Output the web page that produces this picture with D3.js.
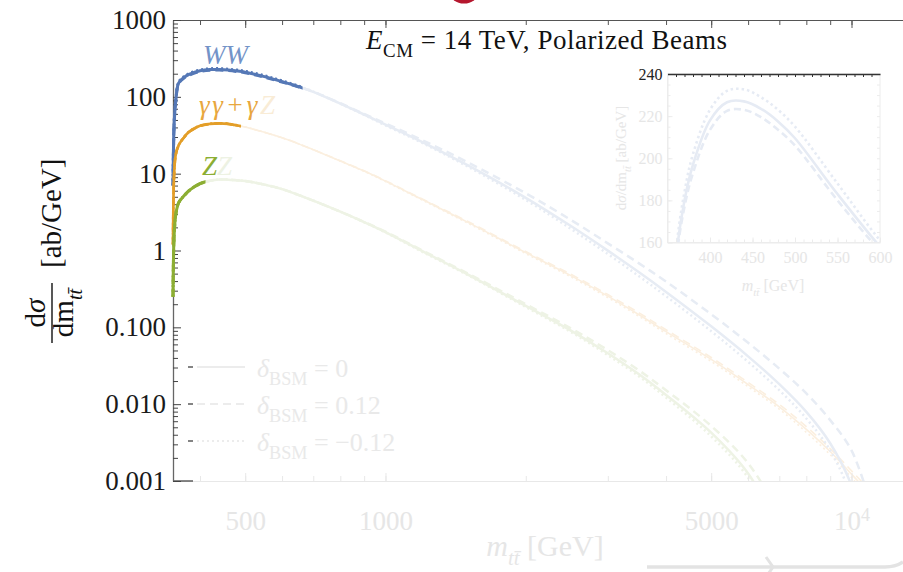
<!DOCTYPE html>
<html>
<head>
<meta charset="utf-8">
<script src="https://cdn.jsdelivr.net/npm/d3@7"></script>
<style>
  body { margin: 0; background: #fff; }
  svg { display: block; }
</style>
</head>
<body>
<div id="chart"></div>
<script>
// m_tt (GeV) sample points shared by every curve
const mass = [350, 352, 355, 360, 370, 380, 400, 420, 440, 460, 480, 500, 550, 600, 650, 700, 800, 900,
              1000, 1200, 1500, 2000, 2500, 3000, 3500, 4000, 5000, 6000, 7000, 8000, 9000, 10000, 11000];
// dsigma/dm (ab/GeV), delta_BSM = 0 / +0.12 / -0.12
const wwSM    = [7, 45, 92, 152, 180, 197, 218, 226.6, 227, 223.5, 217.5, 209.5, 183, 158, 136, 116, 81.5, 58.8,
                 43.6, 25.8, 12.9, 4.85, 2.08, 0.996, 0.52, 0.289, 0.103, 0.0419, 0.0182, 0.00794, 0.0031, 0.00087, 0.00008];
const wwPlus  = [7, 44, 90, 150, 177, 193, 213.5, 222.5, 223, 219.5, 213.5, 206, 180, 156, 135.5, 116.5, 82.5, 60,
                 45, 27.3, 14.1, 5.55, 2.5, 1.24, 0.68, 0.395, 0.148, 0.063, 0.029, 0.0138, 0.0062, 0.0025, 0.0005];
const wwMinus = [7, 46, 94, 155, 184, 202, 223, 232, 232.7, 229, 223, 215, 188, 161, 138.5, 117, 81.5, 58.3,
                 42.4, 25.1, 12.4, 4.55, 1.91, 0.9, 0.462, 0.254, 0.089, 0.0355, 0.0152, 0.0065, 0.0025, 0.0006, 0.00005];
const ggSM    = [1.2, 10, 18, 23.5, 30, 35.5, 42, 44.5, 45.2, 44.5, 42.5, 40.5, 34.5, 29.3, 24.6, 20.5, 14.6, 10.8,
                 8.0, 4.6, 2.34, 0.94, 0.471, 0.255, 0.146, 0.088, 0.0382, 0.018, 0.00925, 0.0047, 0.00242, 0.00123, 0.00065];
const ggPlus  = [1.2, 10, 18, 23.4, 29.8, 35.3, 41.8, 44.3, 45, 44.3, 42.3, 40.4, 34.4, 29.3, 24.6, 20.5, 14.7, 10.9,
                 8.1, 4.68, 2.4, 0.97, 0.49, 0.267, 0.154, 0.093, 0.0405, 0.0192, 0.0099, 0.0051, 0.00264, 0.00136, 0.00073];
const ggMinus = [1.2, 10, 18, 23.6, 30.2, 35.7, 42.2, 44.7, 45.4, 44.7, 42.7, 40.6, 34.6, 29.3, 24.6, 20.5, 14.5, 10.7,
                 7.9, 4.52, 2.28, 0.91, 0.453, 0.244, 0.139, 0.083, 0.036, 0.0169, 0.0086, 0.0043, 0.0022, 0.00111, 0.00058];
const zzSM    = [0.25, 1.6, 3.0, 4.2, 5.2, 6.1, 7.4, 8.1, 8.4, 8.35, 8.2, 8.05, 7.2, 6.3, 5.3, 4.45, 3.2, 2.34,
                 1.74, 0.98, 0.49, 0.19, 0.0906, 0.046, 0.0245, 0.0132, 0.00425, 0.00125, 0.00022, 0.00002, 0.000005, 0.000002, 0.000001];
const zzPlus  = [0.25, 1.6, 3.0, 4.2, 5.2, 6.1, 7.4, 8.1, 8.4, 8.35, 8.2, 8.05, 7.2, 6.3, 5.3, 4.45, 3.2, 2.36,
                 1.76, 1.0, 0.505, 0.2, 0.097, 0.0505, 0.0275, 0.0152, 0.0052, 0.0017, 0.00035, 0.00004, 0.000006, 0.000002, 0.000001];
const zzMinus = [0.25, 1.6, 3.0, 4.2, 5.2, 6.1, 7.4, 8.1, 8.4, 8.35, 8.2, 8.05, 7.2, 6.3, 5.3, 4.45, 3.2, 2.33,
                 1.72, 0.96, 0.48, 0.184, 0.087, 0.0435, 0.023, 0.0122, 0.0038, 0.0011, 0.00018, 0.00002, 0.000005, 0.000002, 0.000001];

const processNames = ["WW", "ZZ"];
const brightUpTo = [664, 489, 411];   // GeV where the highlighted part of each curve stops
const yTickValues = [0.001, 0.01, 0.1, 1, 10, 100, 1000];
const yTickLabels = ["0.001", "0.010", "0.100", "1", "10", "100", "1000"];
const xTickValues = [500, 1000, 5000, 10000];
const xTickLabels = ["500", "1000", "5000", "10"];
const insetXTicks = [400, 450, 500, 550, 600];
const insetYTicks = [160, 180, 200, 220, 240];
const deltaLabels = ["0", "0.12", "\u22120.12"];

const serif = "'Liberation Serif', 'DejaVu Serif', serif";
const fadedText = "#e6e6e6";
const dashes = [null, "8,5", "2,3"];

const width = 903, height = 572;
const svg = d3.select("#chart").append("svg")
    .attr("width", width).attr("height", height)
    .attr("font-family", serif);

const x = d3.scaleLog().domain([350, 14000]).range([173, 919.6]);
const y = d3.scaleLog().domain([0.001, 1000]).range([481, 20]);

// rich text helper: parts with italic / subscript / superscript
function rich(textSel, parts, size) {
    let shift = 0;
    parts.forEach(p => {
        const target = p.sub ? 0.3 * size : p.sup ? -0.42 * size : 0;
        const ts = textSel.append("tspan").text(p.t).attr("dy", target - shift);
        shift = target;
        if (p.sub || p.sup) ts.attr("font-size", size * 0.7);
        if (p.italic) ts.attr("font-style", "italic");
        if (p.fill) ts.attr("fill", p.fill);
    });
    return textSel;
}

const defs = svg.append("defs");
defs.append("clipPath").attr("id", "plotClip").append("rect")
    .attr("x", 168).attr("y", 18).attr("width", 740).attr("height", 463);

const series = [
    {sets: [wwSM, wwPlus, wwMinus], color: "#5578b6", faded: "#e7ecf4", w: 3, wf: 2.5},
    {sets: [ggSM, ggPlus, ggMinus], color: "#e39e28", faded: "#fbefdf", w: 2.6, wf: 1.6},
    {sets: [zzSM, zzPlus, zzMinus], color: "#8cae33", faded: "#eef3e5", w: 3, wf: 2.5}
];
series.forEach((s, i) => {
    defs.append("clipPath").attr("id", "bright" + i).append("rect")
        .attr("x", 168).attr("y", 18).attr("width", x(brightUpTo[i]) - 168).attr("height", 463);
});

const line = d3.line()
    .x((d, i) => x(mass[i]))
    .y(d => y(d))
    .curve(d3.curveCatmullRom.alpha(0.5));

// faded full curves
[2, 1, 0].forEach(i => {
    const s = series[i];
    s.sets.forEach((vals, k) => {
        svg.append("path")
            .attr("d", line(vals))
            .attr("fill", "none")
            .attr("stroke", s.faded)
            .attr("stroke-width", s.wf)
            .attr("stroke-dasharray", dashes[k])
            .attr("clip-path", "url(#plotClip)");
    });
});

// bottom axis (faded)
const minorX = [];
[100, 1000].forEach(dec => { for (let k = 1; k <= 9; k++) { const v = k * dec; if (v >= 400) minorX.push(v); } });
minorX.push(10000);
const bottomMajor = d3.axisBottom(x).tickValues(xTickValues)
    .tickFormat((d, i) => xTickLabels[i]).tickSize(-8).tickSizeOuter(0).tickPadding(30);
const gx = svg.append("g").attr("transform", "translate(0,481)").call(bottomMajor)
    .attr("color", "#e8e8e8").attr("font-family", serif).attr("font-size", 27);
gx.selectAll("text").attr("fill", fadedText);
gx.selectAll(".tick").filter(d => d === 10000).select("text")
    .append("tspan").attr("dy", "-0.5em").attr("font-size", 18).text("4");
svg.append("g").attr("transform", "translate(0,481)")
    .call(d3.axisBottom(x).tickValues(minorX).tickFormat("").tickSize(-5).tickSizeOuter(0))
    .attr("color", "#e8e8e8")
    .call(g => g.select(".domain").remove());
svg.append("line").attr("x1", 173).attr("x2", 193).attr("y1", 481).attr("y2", 481)
    .attr("stroke", "#444").attr("stroke-width", 1.3);

// top axis (dark)
svg.append("g").attr("transform", "translate(0,20)")
    .call(d3.axisTop(x).tickValues(xTickValues).tickFormat("").tickSize(-8).tickSizeOuter(0))
    .attr("color", "#555");
svg.append("g").attr("transform", "translate(0,20)")
    .call(d3.axisTop(x).tickValues(minorX).tickFormat("").tickSize(-5).tickSizeOuter(0))
    .attr("color", "#555")
    .call(g => g.select(".domain").remove());

// left axis (dark)
const minorY = [];
[0.001, 0.01, 0.1, 1, 10, 100].forEach(dec => { for (let k = 2; k <= 9; k++) minorY.push(k * dec); });
const gy = svg.append("g").attr("transform", "translate(173,0)")
    .call(d3.axisLeft(y).tickValues(yTickValues).tickFormat((d, i) => yTickLabels[i])
        .tickSize(-8).tickSizeOuter(0).tickPadding(7))
    .attr("color", "#444").attr("font-family", serif).attr("font-size", 27);
gy.selectAll("text").attr("fill", "#1a1a1a");
gy.select(".domain").attr("stroke", "#666").attr("stroke-width", 1.3);
svg.append("g").attr("transform", "translate(173,0)")
    .call(d3.axisLeft(y).tickValues(minorY).tickFormat("").tickSize(-5).tickSizeOuter(0))
    .attr("color", "#444")
    .call(g => g.select(".domain").remove());

// highlighted parts of the curves
series.forEach((s, i) => {
    [2, 1, 0].forEach(k => {
        svg.append("path")
            .attr("d", line(s.sets[k]))
            .attr("fill", "none")
            .attr("stroke", s.color)
            .attr("stroke-width", s.w)
            .attr("stroke-dasharray", dashes[k])
            .attr("clip-path", "url(#bright" + i + ")");
    });
});

// curve labels
svg.append("text").attr("x", 203).attr("y", 64).attr("font-size", 27)
    .attr("font-style", "italic").attr("fill", "#7393c8").text(processNames[0]);
rich(svg.append("text").attr("x", 199).attr("y", 114).attr("font-size", 27)
    .attr("textLength", 76).attr("lengthAdjust", "spacing"), [
    {t: "\u03b3\u03b3+\u03b3", italic: true, fill: "#e8a73e"},
    {t: "Z", italic: true, fill: "#f9ecd6"}
], 27);
svg.append("text").attr("x", 202).attr("y", 175).attr("font-size", 27).attr("font-style", "italic")
    .call(t => t.append("tspan").attr("fill", "#8cae33").text(processNames[1][0]))
    .call(t => t.append("tspan").attr("fill", "#edf2e3").text(processNames[1][1]));

// title
rich(svg.append("text").attr("x", 366).attr("y", 49).attr("font-size", 27).attr("fill", "#111")
    .attr("textLength", 361).attr("lengthAdjust", "spacing"), [
    {t: "E", italic: true}, {t: "CM", sub: true}, {t: " = 14 TeV, Polarized Beams"}
], 27);

// legend
deltaLabels.forEach((lab, k) => {
    const yy = 367 + k * 37;
    svg.append("line").attr("x1", 188).attr("x2", 193).attr("y1", yy).attr("y2", yy)
        .attr("stroke", "#333").attr("stroke-width", 1.2);
    svg.append("line").attr("x1", 197).attr("x2", 245).attr("y1", yy).attr("y2", yy)
        .attr("stroke", "#e6e6e6").attr("stroke-width", 1.5).attr("stroke-dasharray", dashes[k]);
    rich(svg.append("text").attr("x", 257).attr("y", yy + 10).attr("font-size", 26).attr("fill", "#e9e9e9"), [
        {t: "\u03b4", italic: true}, {t: "BSM", sub: true}, {t: " = " + lab}
    ], 26);
});

// main axis titles
const yl = svg.append("g").attr("transform", "translate(52,313) rotate(-90)").attr("fill", "#111");
rich(yl.append("text").attr("x", 0).attr("y", -7).attr("text-anchor", "middle").attr("font-size", 29), [
    {t: "d"}, {t: "\u03c3", italic: true}
], 29);
yl.append("line").attr("x1", -30).attr("x2", 30).attr("y1", 0).attr("y2", 0)
    .attr("stroke", "#111").attr("stroke-width", 1.4);
rich(yl.append("text").attr("x", 0).attr("y", 21).attr("text-anchor", "middle").attr("font-size", 29), [
    {t: "dm"}, {t: "tt\u0304", sub: true, italic: true}
], 29);
yl.append("text").attr("x", 45).attr("y", 9).attr("font-size", 29).text("[ab/GeV]");

rich(svg.append("text").attr("x", 545).attr("y", 556).attr("text-anchor", "middle")
    .attr("font-size", 30).attr("fill", fadedText), [
    {t: "m", italic: true}, {t: "tt\u0304", sub: true, italic: true}, {t: " [GeV]"}
], 30);

// inset
const ix = d3.scaleLinear().domain([350, 600]).range([667.5, 880]);
const iy = d3.scaleLinear().domain([160, 240]).range([242.5, 74]);
defs.append("clipPath").attr("id", "insetClip").append("rect")
    .attr("x", 667.5).attr("y", 74).attr("width", 212.5).attr("height", 168.5);
const inset = svg.append("g");
inset.append("rect").attr("x", 667.5).attr("y", 74).attr("width", 212.5).attr("height", 168.5)
    .attr("fill", "#fff").attr("stroke", "#ececec").attr("stroke-width", 1);
const iline = d3.line()
    .x((d, i) => ix(mass[i]))
    .y(d => iy(d))
    .curve(d3.curveCatmullRom.alpha(0.5));
series[0].sets.forEach((vals, k) => {
    inset.append("path")
        .attr("d", iline(vals.slice(0, 15)))
        .attr("fill", "none")
        .attr("stroke", "#e6ebf4")
        .attr("stroke-width", 2.6)
        .attr("stroke-dasharray", k === 1 ? "7,4" : k === 2 ? "2.5,3" : null)
        .attr("clip-path", "url(#insetClip)");
});
// inset ticks
const gix = inset.append("g").attr("transform", "translate(0,242.5)")
    .call(d3.axisBottom(ix).tickValues(insetXTicks).tickSize(-5).tickSizeOuter(0).tickPadding(9))
    .attr("color", "#ececec").attr("font-family", serif).attr("font-size", 16);
gix.selectAll("text").attr("fill", fadedText);
inset.append("g").attr("transform", "translate(0,242.5)")
    .call(d3.axisBottom(ix).tickValues(d3.range(360, 600, 10)).tickFormat("").tickSize(-3).tickSizeOuter(0))
    .attr("color", "#ececec").call(g => g.select(".domain").remove());
const giy = inset.append("g").attr("transform", "translate(667.5,0)")
    .call(d3.axisLeft(iy).tickValues(insetYTicks).tickSize(-5).tickSizeOuter(0).tickPadding(5))
    .attr("color", "#ececec").attr("font-family", serif).attr("font-size", 16);
giy.selectAll("text").attr("fill", d => d === 240 ? "#222" : fadedText);
inset.append("g").attr("transform", "translate(667.5,0)")
    .call(d3.axisLeft(iy).tickValues(d3.range(165, 240, 5)).tickFormat("").tickSize(-3).tickSizeOuter(0))
    .attr("color", "#ececec").call(g => g.select(".domain").remove());
inset.append("g").attr("transform", "translate(880,0)")
    .call(d3.axisRight(iy).tickValues(d3.range(165, 240, 5)).tickFormat("").tickSize(-3).tickSizeOuter(0))
    .attr("color", "#ececec").call(g => g.select(".domain").remove());
inset.append("g").attr("transform", "translate(0,74)")
    .call(d3.axisTop(ix).tickValues(d3.range(360, 600, 10)).tickFormat("")
        .tickSize(-3).tickSizeOuter(0))
    .attr("color", "#333")
    .call(g => g.select(".domain").attr("stroke-width", 1.6));
rich(inset.append("text").attr("transform", "translate(626,158) rotate(-90)")
    .attr("text-anchor", "middle").attr("font-size", 15).attr("fill", fadedText), [
    {t: "d"}, {t: "\u03c3", italic: true}, {t: "/dm"}, {t: "tt\u0304", sub: true, italic: true}, {t: " [ab/GeV]"}
], 15);
rich(inset.append("text").attr("x", 773).attr("y", 291).attr("text-anchor", "middle")
    .attr("font-size", 16).attr("fill", fadedText), [
    {t: "m", italic: true}, {t: "tt\u0304", sub: true, italic: true}, {t: " [GeV]"}
], 16);

// slide decorations
svg.append("ellipse").attr("cx", 464).attr("cy", -7).attr("rx", 14).attr("ry", 10.5).attr("fill", "#b5172e");
svg.append("path").attr("d", "M647,567 L885,567 Q896,567 903,562")
    .attr("fill", "none").attr("stroke", "#e3e3e3").attr("stroke-width", 3.5);
svg.append("path").attr("d", "M766,557 L773,567 L766,577")
    .attr("fill", "none").attr("stroke", "#e3e3e3").attr("stroke-width", 3);
</script>
</body>
</html>
